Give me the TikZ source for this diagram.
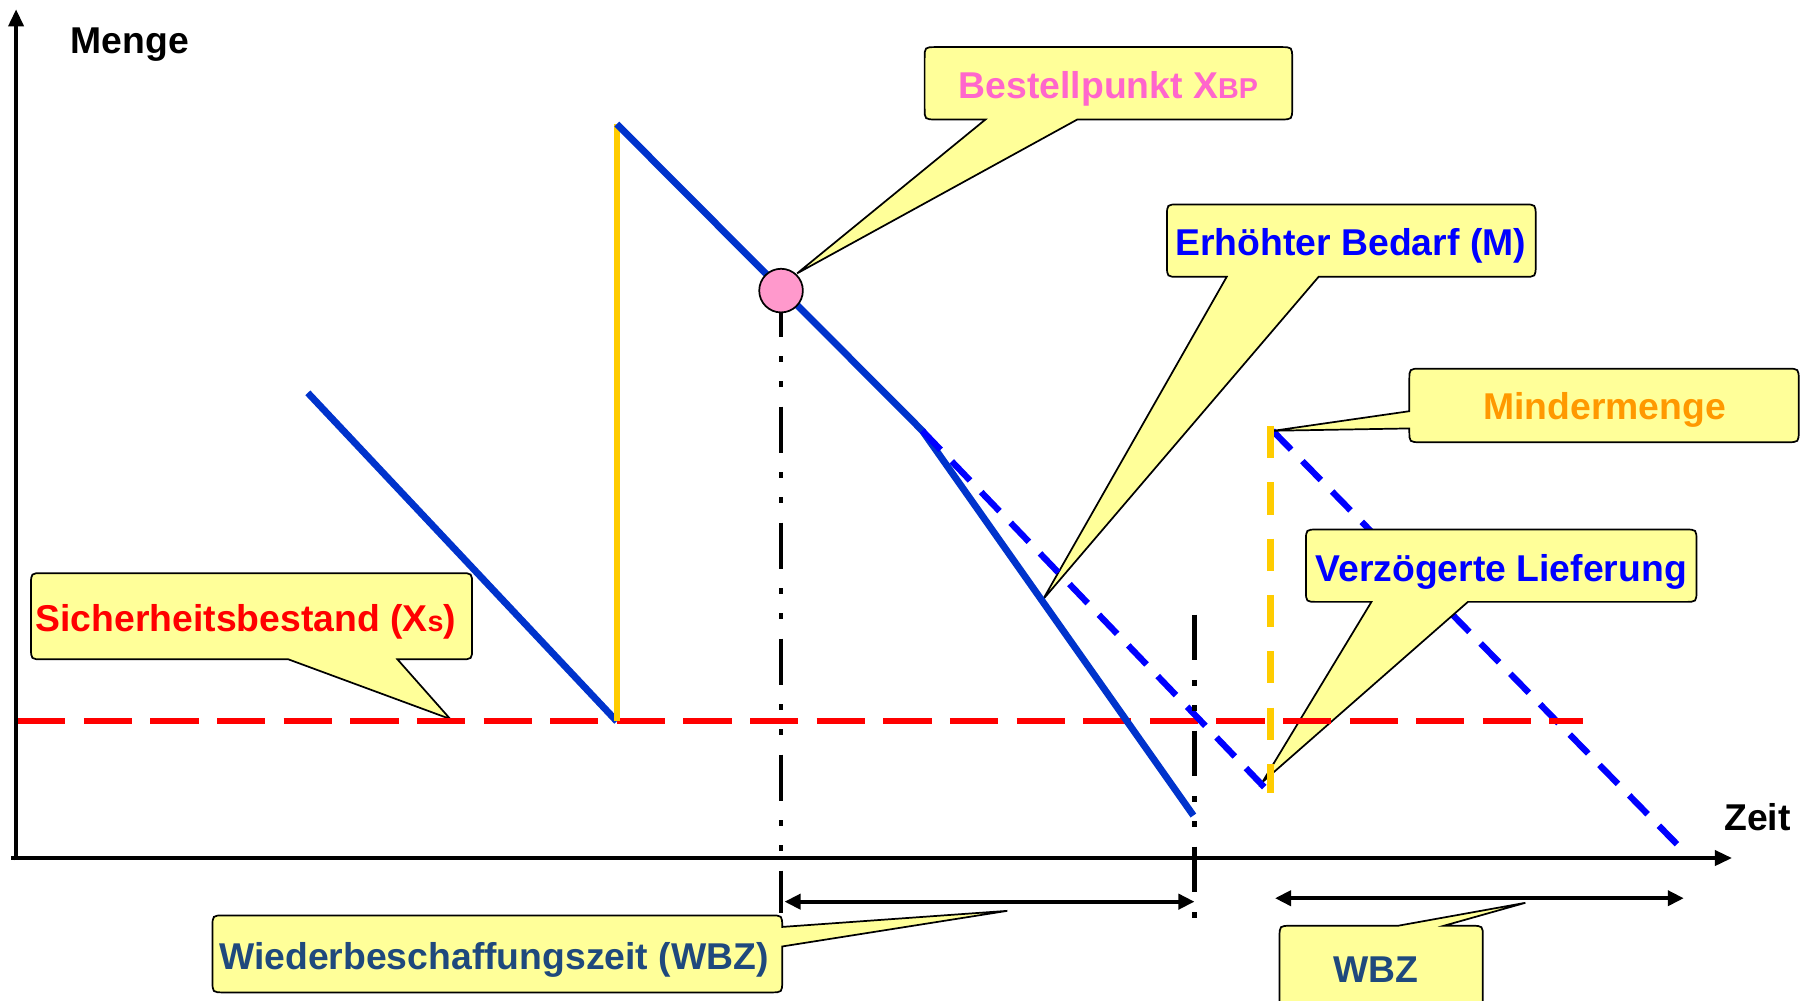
\documentclass[tikz,border=0pt]{standalone}
\usepackage{fontspec}
\setmainfont{Liberation Sans}
\usetikzlibrary{arrows.meta}
\definecolor{cfill}{HTML}{FFFF99}
\definecolor{lblue}{HTML}{0033CC}
\definecolor{dblue}{HTML}{0000FF}
\definecolor{tblue}{HTML}{0000FF}
\definecolor{navy}{HTML}{1F497D}
\definecolor{pinktxt}{HTML}{FF66CC}
\definecolor{pinkdot}{HTML}{FF99CC}
\definecolor{orangetxt}{HTML}{FF9900}
\definecolor{ylw}{HTML}{FFCC00}
\definecolor{redl}{HTML}{FF0000}
\tikzset{
  callout/.style={draw=black, fill=cfill, line width=1.5pt, line join=miter},
  lbl/.style={font=\bfseries\fontsize{32.5}{36}\selectfont, inner sep=0pt, anchor=center, yshift=-4pt},
  axisline/.style={draw=black, line width=3.5pt},
  bluesolid/.style={draw=lblue, line width=6pt},
  bluedash/.style={draw=dblue, line width=5.5pt, dash pattern=on 23pt off 14pt},
  redsafe/.style={draw=redl, line width=5pt, dash pattern=on 42pt off 16pt},
  ysolid/.style={draw=ylw, line width=5.5pt},
  ydash/.style={draw=ylw, line width=6pt, dash pattern=on 28pt off 21pt},
  dashdot/.style={draw=black, line width=4pt, dash pattern=on 40pt off 17pt on 5pt off 17pt on 5pt off 17pt},
  span/.style={draw=black, line width=3.5pt, {Triangle[length=14pt,width=13pt]}-{Triangle[length=14pt,width=13pt]}},
}
\begin{document}
\begin{tikzpicture}[x=1pt,y=-1pt]
\useasboundingbox (0,0) rectangle (1568,871);
% key coordinates
\coordinate (Ytop) at (14,8);
\coordinate (Ybot) at (14,749);
\coordinate (Xend) at (1508,747);
\coordinate (Xstart) at (10,747);
\coordinate (R0) at (15,628);
\coordinate (R1) at (1378,628);
\coordinate (A0) at (268,342);
\coordinate (A1) at (537,628);
\coordinate (Ytopline) at (537,108);
\coordinate (K) at (803,375);
\coordinate (E1) at (1039,710);
\coordinate (D1) at (1109,694);
\coordinate (M0) at (1106,371);
\coordinate (M1) at (1106,690);
\coordinate (N0) at (1108,375);
\coordinate (N1) at (1460,735);
\coordinate (BP) at (680,253);
\coordinate (BPlow) at (680,795);
\coordinate (W0) at (1040,535);
\coordinate (W1) at (1040,800);
\coordinate (S1a) at (683,785);
\coordinate (S1b) at (1040,785);
\coordinate (S2a) at (1110,782);
\coordinate (S2b) at (1466,782);

% second dashed demand line (behind callouts)
\draw[bluedash] (N0) -- (N1);

% callouts
\draw[callout] (815,41) -- (1115,41) .. controls (1125,41) .. (1125,51) -- (1125,94) .. controls (1125,104) .. (1115,104) -- (938,104) -- (694,238) -- (858,104) -- (815,104) .. controls (805,104) .. (805,94) -- (805,51) .. controls (805,41) .. (815,41) -- cycle;
\draw[callout] (1026,178) -- (1327,178) .. controls (1337,178) .. (1337,188) -- (1337,231) .. controls (1337,241) .. (1327,241) -- (1148,241) -- (908,522) -- (1068,241) -- (1026,241) .. controls (1016,241) .. (1016,231) -- (1016,188) .. controls (1016,178) .. (1026,178) -- cycle;
\draw[callout] (1237,321) -- (1556,321) .. controls (1566,321) .. (1566,331) -- (1566,375) .. controls (1566,385) .. (1556,385) -- (1237,385) .. controls (1227,385) .. (1227,375) -- (1227,373) -- (1109,375) -- (1227,358) -- (1227,331) .. controls (1227,321) .. (1237,321) -- cycle;
\draw[callout] (1147,461) -- (1467,461) .. controls (1477,461) .. (1477,471) -- (1477,514) .. controls (1477,524) .. (1467,524) -- (1278,524) -- (1099,681) -- (1194,524) -- (1147,524) .. controls (1137,524) .. (1137,514) -- (1137,471) .. controls (1137,461) .. (1147,461) -- cycle;
\draw[callout] (37,499) -- (401,499) .. controls (411,499) .. (411,509) -- (411,564) .. controls (411,574) .. (401,574) -- (346,574) -- (392,626) -- (251,574) -- (37,574) .. controls (27,574) .. (27,564) -- (27,509) .. controls (27,499) .. (37,499) -- cycle;
\draw[callout] (195,797) -- (671,797) .. controls (681,797) .. (681,807) -- (877,793) -- (681,824) -- (681,854) .. controls (681,864) .. (671,864) -- (195,864) .. controls (185,864) .. (185,854) -- (185,807) .. controls (185,797) .. (195,797) -- cycle;
\draw[callout] (1124,806) -- (1217,806) -- (1328,786) -- (1257,806) -- (1281,806) .. controls (1291,806) .. (1291,816) -- (1291,880) .. controls (1291,890) .. (1281,890) -- (1124,890) .. controls (1114,890) .. (1114,880) -- (1114,816) .. controls (1114,806) .. (1124,806) -- cycle;

% safety stock line
\draw[redsafe] (R0) -- (R1);
% stock lines
\draw[bluesolid] (A0) -- (A1);
\draw[ysolid] (A1) -- (Ytopline);
\draw[bluesolid, line join=round] (Ytopline) -- (K) -- (E1);
\draw[bluedash] (K) -- (D1);
\draw[ydash] (M0) -- (M1);

% lead time markers
\draw[dashdot] (BP) -- (BPlow);
\draw[dashdot] (W0) -- (W1);

% axes
\draw[axisline, -{Triangle[length=15pt,width=13pt]}] (Xstart) -- (Xend);
\draw[axisline, -{Triangle[length=15pt,width=13pt]}] (Ybot) -- (Ytop);

% spans
\draw[span] (S1a) -- (S1b);
\draw[span] (S2a) -- (S2b);

% reorder point
\node[circle, draw=black, line width=1.5pt, fill=pinkdot, minimum size=38pt, inner sep=0pt] (bpdot) at (BP) {};

% labels
\node[lbl] (menge) at (113,35) {Menge};
\node[lbl] (zeit) at (1530,707) {Zeit};
\node[lbl, text=pinktxt] (tbp) at (965,73) {Bestellpunkt X{\fontsize{25}{25}\selectfont BP}};
\node[lbl, text=tblue] (terh) at (1176,210) {Erhöhter Bedarf (M)};
\node[lbl, text=orangetxt] (tmin) at (1397,353) {Mindermenge};
\node[lbl, text=tblue] (tverz) at (1307,494) {Verzögerte Lieferung};
\node[lbl, text=redl] (tsich) at (214,537) {Sicherheitsbestand (X{\fontsize{25}{25}\selectfont s})};
\node[lbl, text=navy] (twbz) at (430,832) {Wiederbeschaffungszeit (WBZ)};
\node[lbl, text=navy] (twbz2) at (1198,840) {WBZ};
\end{tikzpicture}
\end{document}
